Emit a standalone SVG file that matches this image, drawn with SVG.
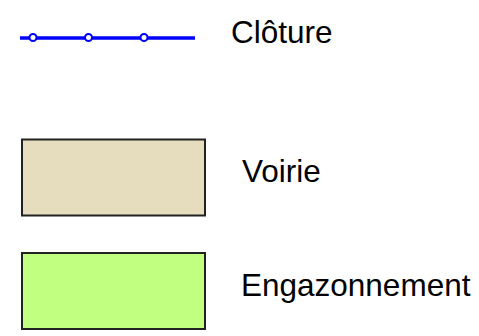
<svg xmlns="http://www.w3.org/2000/svg" width="479" height="336" viewBox="0 0 479 336">
<style>
text{font-family:"Liberation Sans",Arial,sans-serif;font-size:31.5px;fill:#000}
.sw{stroke:#222;stroke-width:2}
.post{fill:#fff;stroke:#0000ff;stroke-width:2}
</style>
<rect width="479" height="336" fill="#fff"/>
<g id="cloture">
<line x1="20" y1="38" x2="195" y2="38" stroke="#0000ff" stroke-width="3.5"/>
<circle class="post" cx="33" cy="37.5" r="3.5"/>
<circle class="post" cx="88.5" cy="37.5" r="3.5"/>
<circle class="post" cx="144" cy="37.5" r="3.5"/>
<text x="231" y="43">Clôture</text>
</g>
<g id="voirie">
<rect class="sw" x="22" y="139.5" width="183" height="76" fill="#e5ddbd"/>
<text x="242" y="182">Voirie</text>
</g>
<g id="engazonnement">
<rect class="sw" x="22" y="253" width="183" height="76" fill="#c0ff7f"/>
<text x="241" y="296">Engazonnement</text>
</g>
</svg>
